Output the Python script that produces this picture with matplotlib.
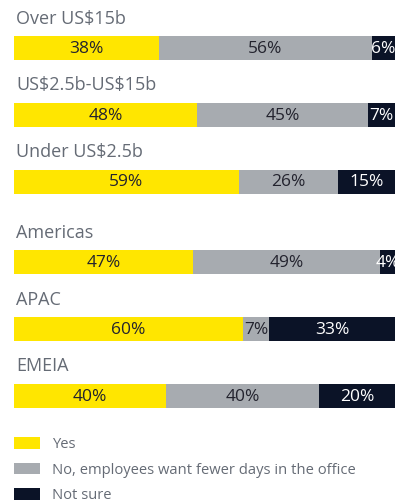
import matplotlib.pyplot as plt
from matplotlib.patches import Patch

plt.rcParams['font.family'] = ['Open Sans', 'DejaVu Sans']
plt.rcParams['text.parse_math'] = False

groups = ['Over US$15b', 'US$2.5b-US$15b', 'Under US$2.5b', 'Americas', 'APAC', 'EMEIA']
yes = [38, 48, 59, 47, 60, 40]
no_fewer = [56, 45, 26, 49, 7, 40]
not_sure = [6, 7, 15, 4, 33, 20]
series_names = ['Yes', 'No, employees want fewer days in the office', 'Not sure']

colors = ['#FFE600', '#A7ABB0', '#0B1327']
text_colors = ['#23232E', '#23232E', 'white']

# company-size rows, then a wider gap before the regional rows
ypos = [0, 1, 2, 3.2, 4.2, 5.2]
bar_h = 0.36

fig = plt.figure(figsize=(3.96, 5.03), dpi=100)
ax = fig.add_axes([14 / 396, 0, 381 / 396, 1])
ax.set_xlim(0, 100)
ax.set_ylim(6.80, -0.717)
ax.axis('off')

series = [yes, no_fewer, not_sure]
for y, name, *vals in zip(ypos, groups, *series):
    left = 0
    for v, c, tc in zip(vals, colors, text_colors):
        ax.barh(y, v, left=left, height=bar_h, color=c, linewidth=0)
        ax.text(left + v / 2, y + 0.01, f'{v}%', ha='center', va='center',
                fontsize=12.5, color=tc)
        left += v
    ax.text(0.6, y - 0.44, name, ha='left', va='center', fontsize=13,
            color='#656B75')

handles = [Patch(facecolor=c, edgecolor='none') for c in colors]
leg = fig.legend(handles, series_names, loc='upper left',
                 bbox_to_anchor=(14 / 396, 1 - 437 / 503), frameon=False,
                 fontsize=10.6, handlelength=1.75, handleheight=0.8,
                 handletextpad=0.8, labelspacing=0.72, borderpad=0,
                 borderaxespad=0)
for t in leg.get_texts():
    t.set_color('#656B75')

fig.savefig('out.png', dpi=100)
